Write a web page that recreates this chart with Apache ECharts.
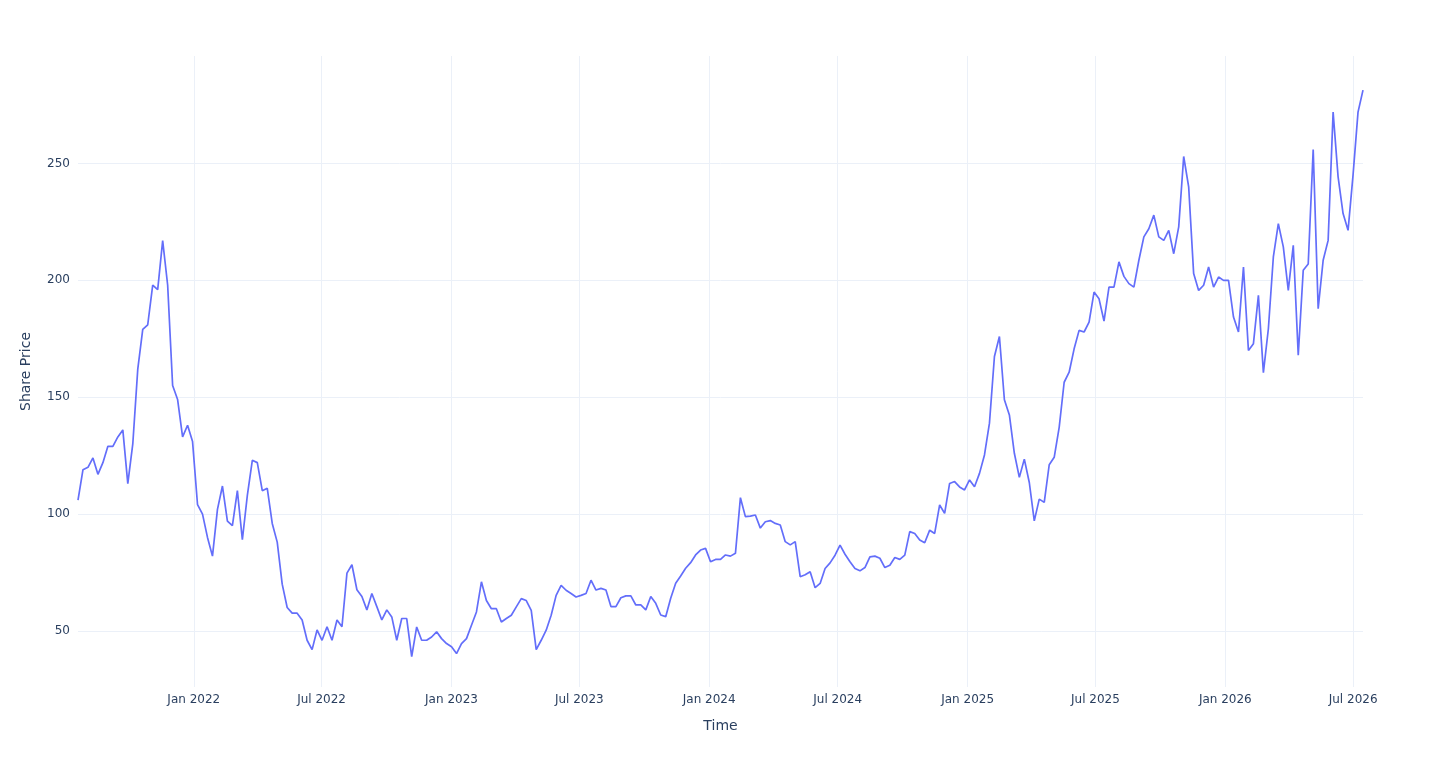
<!DOCTYPE html>
<html>
<head>
<meta charset="utf-8">
<title>Share Price</title>
<script src="https://cdn.jsdelivr.net/npm/echarts@6/dist/echarts.min.js"></script>
<style>
  html, body { margin: 0; padding: 0; background: #fff; }
  #chart { width: 1440px; height: 768px; }
</style>
</head>
<body>
<div id="chart"></div>
<script>
// sampling window of the series (roughly weekly)
const startDate = '2021-07-21';
const endDate = '2026-07-15';

// share price
const prices = [
  106, 119, 120, 124, 117, 122, 129, 129, 133, 136,
  113, 130, 162, 179, 181, 198, 196, 217, 198, 155,
  149, 133, 138, 131, 104, 100, 90, 82, 102, 112,
  97, 95, 110, 89, 108, 123, 122, 110, 111, 96,
  88, 70, 60, 57.6, 57.6, 54.7, 46, 42, 50.4, 46,
  51.8, 46, 54.7, 51.8, 74.7, 78.3, 67.6, 64.7, 59, 66,
  60.4, 54.7, 59, 56, 46, 55.3, 55.3, 39, 51.7, 46,
  46, 47.4, 49.6, 46.7, 44.6, 43.2, 40.3, 44.6, 46.7, 52.4,
  58.1, 71, 63, 59.5, 59.5, 53.8, 55.3, 56.7, 60.3, 63.8,
  63, 58.8, 42, 46, 50.3, 56.7, 65.2, 69.5, 67.4, 66,
  64.5, 65.2, 66, 71.7, 67.5, 68.2, 67.5, 60.4, 60.4, 64.2,
  65, 65, 61.1, 61.1, 59, 64.7, 61.8, 56.8, 56.1, 64,
  70.4, 73.5, 76.8, 79.2, 82.5, 84.6, 85.3, 79.6, 80.6, 80.6,
  82.5, 82, 83.2, 107, 98.9, 99.1, 99.6, 94, 96.7, 97.2,
  96, 95.3, 88.2, 86.8, 88.2, 73.2, 74, 75.3, 68.5, 70.3,
  76.7, 79.1, 82.4, 86.7, 82.8, 79.6, 76.7, 75.7, 77.1, 81.7,
  82, 81.1, 77.1, 78.1, 81.4, 80.6, 82.4, 92.5, 91.7, 88.9,
  87.7, 93.1, 91.7, 103.9, 100.3, 113.1, 113.9, 111.6, 110.3, 114.6,
  111.7, 117.4, 125.3, 138.9, 167.4, 176, 148.9, 142.4, 126, 115.7,
  123.5, 113.5, 97.1, 106.4, 105, 121.1, 124.3, 137.1, 156.4, 160.7,
  170.7, 178.6, 177.9, 182.1, 195, 192.1, 182.6, 197.1, 197.1, 207.9,
  201.7, 198.6, 197.1, 208.6, 218.6, 222.1, 227.9, 218.6, 217.1, 221.4,
  211.4, 222.9, 253, 240, 202.9, 195.7, 197.9, 205.7, 197.1, 201.4,
  200, 200, 184.3, 177.9, 205.7, 170, 172.9, 193.6, 160.5, 179.3,
  210, 224.3, 214.3, 195.7, 215, 168, 204.3, 207, 256, 187.9,
  208.6, 217.1, 272, 244.3, 228.6, 221.4, 245, 272, 281.4
];

// axis ticks
const xTicks = [
  '2022-01-01', '2022-07-01', '2023-01-01', '2023-07-01', '2024-01-01',
  '2024-07-01', '2025-01-01', '2025-07-01', '2026-01-01', '2026-07-01'
];
const yTicks = [50, 100, 150, 200, 250];
const monthNames = ['Jan', 'Feb', 'Mar', 'Apr', 'May', 'Jun', 'Jul', 'Aug', 'Sep', 'Oct', 'Nov', 'Dec'];

const toTime = (s) => new Date(s + 'T00:00:00').getTime();
const t0 = toTime(startDate);
const t1 = toTime(endDate);
const step = (t1 - t0) / (prices.length - 1);
const seriesData = prices.map((p, i) => [t0 + i * step, p]);
const xTickValues = xTicks.map(toTime);

const textColor = '#2a3f5f';
const gridColor = '#ebf0f8';
const font = '"DejaVu Sans", verdana, arial, sans-serif';

const chart = echarts.init(document.getElementById('chart'));
chart.setOption({
  animation: false,
  backgroundColor: '#fff',
  textStyle: { fontFamily: font },
  grid: { left: 78, right: 77, top: 56, bottom: 81, containLabel: false },
  xAxis: {
    type: 'value',
    min: t0,
    max: t1,
    name: 'Time',
    nameLocation: 'middle',
    nameGap: 32,
    nameTextStyle: { color: textColor, fontSize: 14, fontFamily: font },
    axisLine: { show: false },
    axisTick: { show: false, customValues: xTickValues },
    axisLabel: {
      customValues: xTickValues,
      color: textColor,
      fontSize: 12,
      fontFamily: font,
      margin: 7,
      formatter: (val) => {
        const d = new Date(val);
        return monthNames[d.getMonth()] + ' ' + d.getFullYear();
      }
    },
    splitLine: { show: true, lineStyle: { color: gridColor, width: 1 } }
  },
  yAxis: {
    type: 'value',
    min: 26,
    max: 296,
    name: 'Share Price',
    nameLocation: 'middle',
    nameGap: 45,
    nameTextStyle: { color: textColor, fontSize: 14, fontFamily: font },
    axisLine: { show: false },
    axisTick: { show: false, customValues: yTicks },
    axisLabel: { customValues: yTicks, color: textColor, fontSize: 12, fontFamily: font, margin: 8 },
    splitLine: { show: true, lineStyle: { color: gridColor, width: 1 } }
  },
  series: [
    {
      type: 'line',
      data: seriesData,
      showSymbol: false,
      lineStyle: { color: '#636efa', width: 1.7 },
      itemStyle: { color: '#636efa' }
    }
  ]
});
</script>
</body>
</html>
